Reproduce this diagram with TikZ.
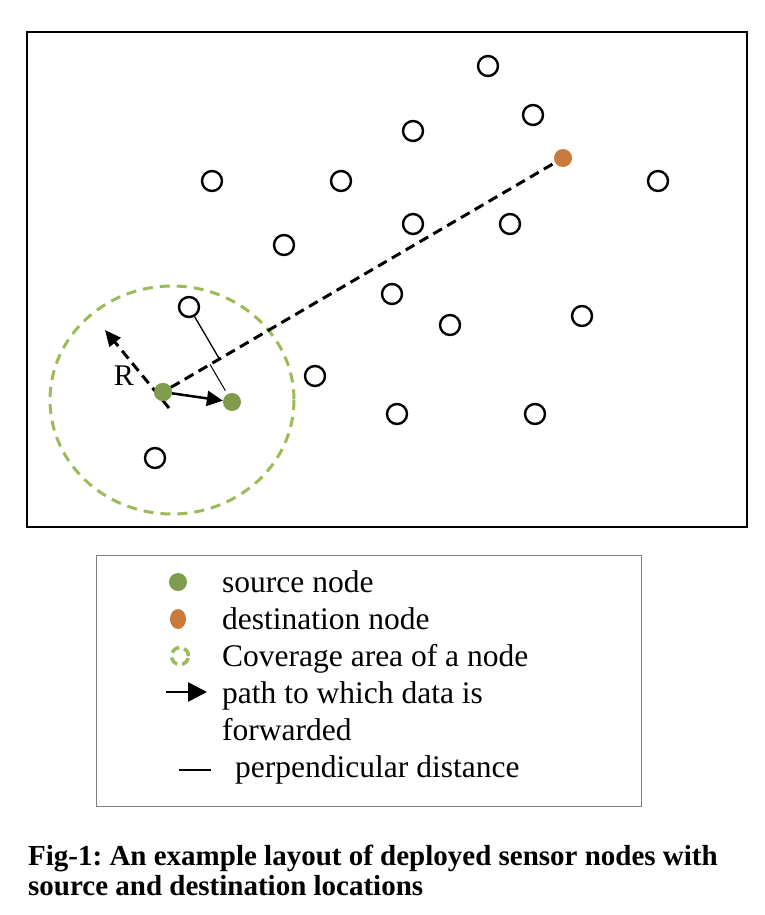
\documentclass[tikz,border=0pt]{standalone}
\usepackage{fontspec}
\setmainfont{Liberation Serif}
\usetikzlibrary{arrows.meta,calc,shapes.geometric}
\definecolor{srcgreen}{HTML}{7E9C4C}
\definecolor{dstorange}{HTML}{C97B3D}
\definecolor{rangegreen}{HTML}{9BBB59}
\definecolor{legendline}{HTML}{7F7F7F}

\begin{document}
\begin{tikzpicture}[x=1pt, y=-1pt,
  sensor/.style={circle, draw, fill=white, line width=2.4pt, minimum size=20pt, inner sep=0pt},
  dotnode/.style={circle, fill=#1, minimum size=18pt, inner sep=0pt},
  coverage/.style={draw=rangegreen, line width=3pt, dash pattern=on 10pt off 7pt},
  route/.style={line width=3pt, dash pattern=on 10pt off 6pt},
  fwd/.style={-{Triangle[length=16pt,width=15pt]}, line width=2.5pt},
  perp/.style={line width=1.3pt},
  legtext/.style={anchor=base west, inner sep=0pt, font=\fontsize{31.5}{37}\selectfont}
]
\useasboundingbox (0,0) rectangle (764,915);

% field
\draw[line width=2pt] (27,32) rectangle (747,527);
\draw[coverage] (172,400) ellipse (122 and 114);

\node[dotnode=srcgreen] (src) at (163,392) {};
\node[dotnode=srcgreen] (nxt) at (232,402) {};
\node[dotnode=dstorange] (dst) at (563,158) {};

\coordinate (rtail) at (169,408);
\coordinate (redge) at (105,330);
\draw[route, -{Triangle[length=16pt,width=14pt]}] (rtail) -- (redge);
\draw[route] (src) -- (dst);
\node[dotnode=srcgreen] at (src) {};
\node[font=\fontsize{30}{30}\selectfont] (rlabel) at (124,376) {R};

\foreach \i/\x/\y in {1/488/66, 2/533/115, 3/413/131, 4/212/181, 5/341/181,
  6/658/181, 7/413/224, 8/510/224, 9/284/245, 10/189/307, 11/392/294,
  12/450/325, 13/582/316, 14/315/376, 15/397/414, 16/535/414, 17/155/458}
  \node[sensor] (s\i) at (\x,\y) {};

\draw[fwd] (src) -- (nxt);
\draw[perp] (s10) -- ($(src)!(s10)!(dst)$);
\draw[perp, line width=1pt, shorten >=4pt] ($(src)!(nxt)!(dst)$) -- (nxt);

% legend
\draw[legendline, line width=1pt] (96,555) rectangle (641,806);
\node[dotnode=srcgreen] (lsrc) at (178,582) {};
\node[ellipse, fill=dstorange, minimum width=16pt, minimum height=20pt, inner sep=0pt] (ldst) at (178,619) {};
\node[circle, draw=rangegreen, line width=3.5pt, dash pattern=on 9pt off 5pt, minimum size=17pt, inner sep=0pt] (lrange) at (180,656) {};
\coordinate (larrA) at (166,692);
\coordinate (larrB) at (207,692);
\draw[fwd, -{Triangle[length=19pt,width=19pt]}] (larrA) -- (larrB);
\coordinate (lperpA) at (179,770);
\coordinate (lperpB) at (211,770);
\draw[perp, line width=1.2pt] (lperpA) -- (lperpB);

\node[legtext] (t1) at (222,592) {source node};
\node[legtext] (t2) at (222,629) {destination node};
\node[legtext] (t3) at (222,666) {Coverage area of a node};
\node[legtext] (t4) at (222,703) {path to which data is};
\node[legtext] (t5) at (222,740) {forwarded};
\node[legtext] (t6) at (235,777) {perpendicular distance};

% caption
\node[anchor=base west, inner sep=0pt, align=left, font=\fontsize{29}{30}\selectfont\bfseries\frenchspacing] (cap) at (28,895)
  {Fig-1: An example layout of deployed sensor nodes with\\source and destination locations};
\end{tikzpicture}
\end{document}
